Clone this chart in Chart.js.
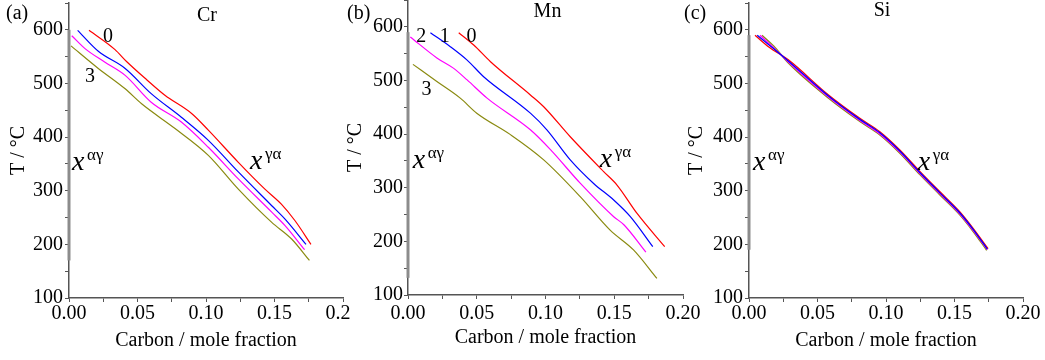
<!DOCTYPE html>
<html>
<head>
<meta charset="utf-8">
<script src="https://cdn.jsdelivr.net/npm/chart.js@4.4.1/dist/chart.umd.min.js"></script>
<style>
  body { margin: 0; background: #fff; }
  #wrap { position: relative; width: 1045px; height: 360px; overflow: hidden; }
  canvas { position: absolute; top: 0; }
</style>
</head>
<body>
<div id="wrap">
  <canvas id="cr" width="350" height="360" style="left:0"></canvas>
  <canvas id="mn" width="355" height="360" style="left:345px"></canvas>
  <canvas id="si" width="365" height="360" style="left:680px"></canvas>
</div>
<script>
// carbon (mole fraction) and temperature (°C) for curves 0..3 of each alloy element

// Cr
const crC0 = [0.0146, 0.0336, 0.042, 0.0567, 0.070, 0.0895, 0.1017, 0.1236, 0.143, 0.155, 0.165, 0.1766];
const crT0 = [599, 563, 541, 507, 478, 444, 413, 353, 303, 275, 244, 200];
const crC1 = [0.0063, 0.0214, 0.041, 0.060, 0.082, 0.1017, 0.1236, 0.148, 0.1577, 0.173];
const crT1 = [599, 560, 528, 481, 437, 394, 335, 272, 247, 200];
const crC2 = [0.002, 0.0117, 0.026, 0.041, 0.060, 0.082, 0.1017, 0.1236, 0.148, 0.1577, 0.172];
const crT2 = [589, 565, 540, 515, 465, 428, 381, 322, 260, 235, 190];
const crC3 = [0.0015, 0.0214, 0.041, 0.053, 0.0774, 0.1017, 0.1236, 0.148, 0.1625, 0.1755];
const crT3 = [570, 528, 490, 462, 416, 366, 303, 241, 210, 170];
const crAgC = [0, 0];
const crAgT = [600, 170];

// Mn
const mnC0 = [0.0369, 0.0478, 0.060, 0.089, 0.0987, 0.118, 0.1423, 0.152, 0.1666, 0.1867];
const mnT0 = [589, 566, 535, 473, 451, 395, 330, 305, 252, 190];
const mnC1 = [0.0163, 0.0308, 0.043, 0.055, 0.089, 0.101, 0.118, 0.135, 0.1496, 0.1617, 0.178];
const mnT1 = [589, 563, 538, 507, 439, 408, 352, 308, 277, 246, 190];
const mnC2 = [0.0017, 0.021, 0.033, 0.043, 0.0575, 0.089, 0.1036, 0.1254, 0.1496, 0.157, 0.173];
const mnT2 = [581, 542, 523, 501, 467, 408, 371, 308, 246, 231, 180];
const mnC3 = [0.0036, 0.021, 0.038, 0.050, 0.0745, 0.0987, 0.1254, 0.147, 0.164, 0.181];
const mnT3 = [530, 498, 467, 439, 399, 352, 283, 221, 184, 131];
const mnAgC = [0, 0];
const mnAgT = [590, 132];

// Si
const siC0 = [0.0044, 0.015, 0.0287, 0.0578, 0.0809, 0.0955, 0.1101, 0.1247, 0.139, 0.1538, 0.1636, 0.1745];
const siT0 = [590, 567, 544, 479, 435, 410, 376, 336, 299, 261, 230, 192];
const siC1 = [0.006, 0.016, 0.0287, 0.0578, 0.0809, 0.0955, 0.1101, 0.1247, 0.139, 0.1538, 0.1636, 0.174];
const siT1 = [590, 569, 542, 477, 433, 408, 374, 334, 297, 259, 228, 191];
const siC2 = [0.008, 0.017, 0.0287, 0.0578, 0.0809, 0.0955, 0.1101, 0.1247, 0.139, 0.1538, 0.1636, 0.174];
const siT2 = [590, 569, 540, 475, 431, 406, 372, 332, 295, 257, 226, 190];
const siC3 = [0.0095, 0.018, 0.0287, 0.0578, 0.0809, 0.0955, 0.1101, 0.1247, 0.139, 0.1538, 0.1636, 0.1735];
const siT3 = [590, 570, 538, 473, 429, 404, 370, 330, 293, 255, 224, 189];
const siAgC = [0, 0];
const siAgT = [590, 190];

const xTicks = [0, 0.05, 0.10, 0.15, 0.20];
const yTicks = [100, 200, 300, 400, 500, 600];

const colors = ["#ff0000", "#0000ff", "#ff00ff", "#8a8a10"];
const serif = '"Liberation Serif", "Times New Roman", serif';

Chart.defaults.font.family = serif;
Chart.defaults.font.size = 20;
Chart.defaults.color = "#000";

const pts = (c, t) => c.map((v, i) => ({ x: v, y: t[i] }));

/* text drawn on top of each panel */
const annotate = {
  id: "annotate",
  afterDatasetsDraw(chart, args, o) {
    const { ctx, chartArea, scales: { x, y } } = chart;
    ctx.save();
    ctx.fillStyle = "#000";
    ctx.font = `20px ${serif}`;
    ctx.textAlign = "left";
    ctx.textBaseline = "top";
    ctx.fillText(o.letter, o.letterX, 4);

    ctx.textAlign = "center";
    ctx.textBaseline = "middle";
    ctx.fillText(o.title, (chartArea.left + chartArea.right) / 2 + o.titleShift, o.titleY);

    o.numbers.forEach(n => {
      ctx.fillText(n.text, x.getPixelForValue(n.c), y.getPixelForValue(n.t));
    });

    ctx.textAlign = "left";
    ctx.textBaseline = "alphabetic";
    o.symbols.forEach(s => {
      const px = x.getPixelForValue(s.c), py = y.getPixelForValue(s.t);
      ctx.font = `italic 28px ${serif}`;
      ctx.fillText("x", px, py);
      ctx.font = `17px ${serif}`;
      ctx.fillText(s.sup, px + 15, py - 10);
    });
    ctx.restore();
  }
};

function panel(id, p) {
  const datasets = [{
    data: pts(p.agC, p.agT),
    borderColor: "#8c8c8c",
    borderWidth: 3,
    clip: false,
    order: 10
  }];
  p.series.forEach((s, i) => {
    datasets.push({
      data: pts(s[0], s[1]),
      borderColor: colors[i],
      borderWidth: p.lineWidth,
      order: p.order ? p.order[i] : 0
    });
  });

  return new Chart(document.getElementById(id), {
    type: "scatter",
    data: { datasets },
    options: {
      responsive: false,
      animation: false,
      devicePixelRatio: 1,
      layout: { padding: { left: 0, top: p.top, right: p.right, bottom: 0 } },
      elements: {
        point: { radius: 0 },
        line: { cubicInterpolationMode: "monotone", fill: false }
      },
      datasets: { scatter: { showLine: true } },
      plugins: {
        legend: { display: false },
        tooltip: { enabled: false },
        annotate: p.text
      },
      scales: {
        x: {
          type: "linear",
          min: 0,
          max: 0.2,
          border: { color: "#555", width: 1.5 },
          grid: { drawOnChartArea: false, drawTicks: true, tickLength: 4, color: "#555" },
          ticks: {
            stepSize: 0.025,
            autoSkip: false,
            maxRotation: 0,
            padding: p.xPad,
            callback: v => (xTicks.some(t => Math.abs(t - v) < 1e-6) ? v.toFixed(2) : "")
          },
          title: {
            display: true,
            text: "Carbon / mole fraction",
            font: { size: 20, lineHeight: 1 },
            padding: { top: 0, bottom: p.xTitlePad }
          },
          afterFit(scale) {
            scale.height = p.xHeight;
            scale.paddingLeft = 0;
            scale.paddingRight = 0;
          }
        },
        y: {
          min: 100,
          max: 650,
          border: { color: "#555", width: 1.5 },
          grid: { drawOnChartArea: false, drawTicks: true, tickLength: 4, color: "#555" },
          ticks: {
            stepSize: 50,
            autoSkip: false,
            padding: p.yPad,
            callback: v => (yTicks.includes(v) ? v : "")
          },
          title: {
            display: true,
            text: "T / °C",
            font: { size: 20, lineHeight: 1 },
            padding: { top: p.yTitlePad, bottom: 0 }
          },
          afterFit(scale) {
            scale.width = p.yWidth;
            scale.paddingTop = 0;
            scale.paddingBottom = 0;
          }
        }
      }
    },
    plugins: [annotate]
  });
}

function drawAll() {
  panel("cr", {
    series: [[crC0, crT0], [crC1, crT1], [crC2, crT2], [crC3, crT3]],
    agC: crAgC, agT: crAgT,
    lineWidth: 1.2,
    top: 3, right: 7, yWidth: 69, xHeight: 62,
    xPad: 0, yPad: 2, xTitlePad: 9, yTitlePad: 9,
    text: {
      letter: "(a)", letterX: 6,
      title: "Cr", titleShift: 1, titleY: 16,
      numbers: [{ text: "0", c: 0.0285, t: 587 }, { text: "3", c: 0.0153, t: 512 }],
      symbols: [{ sup: "αγ", c: 0.0022, t: 338 }, { sup: "γα", c: 0.1321, t: 340 }]
    }
  });

  panel("mn", {
    series: [[mnC0, mnT0], [mnC1, mnT1], [mnC2, mnT2], [mnC3, mnT3]],
    agC: mnAgC, agT: mnAgT,
    lineWidth: 1.2,
    top: 0, right: 17, yWidth: 63, xHeight: 65,
    xPad: 3, yPad: 1, xTitlePad: 12, yTitlePad: 1,
    text: {
      letter: "(b)", letterX: 2,
      title: "Mn", titleShift: 2, titleY: 12,
      numbers: [
        { text: "2", c: 0.0097, t: 581 }, { text: "1", c: 0.0267, t: 581 },
        { text: "0", c: 0.0461, t: 581 }, { text: "3", c: 0.0134, t: 482 }
      ],
      symbols: [{ sup: "αγ", c: 0.0034, t: 336 }, { sup: "γα", c: 0.1394, t: 338 }]
    }
  });

  // Si curves nearly coincide: olive underneath, blue on top
  panel("si", {
    series: [[siC0, siT0], [siC1, siT1], [siC2, siT2], [siC3, siT3]],
    order: [2, 0, 1, 3],
    agC: siAgC, agT: siAgT,
    lineWidth: 1.3,
    top: 3, right: 22, yWidth: 69, xHeight: 62,
    xPad: 0, yPad: 2, xTitlePad: 9, yTitlePad: 7,
    text: {
      letter: "(c)", letterX: 4,
      title: "Si", titleShift: -4, titleY: 11,
      numbers: [],
      symbols: [{ sup: "αγ", c: 0.0029, t: 339 }, { sup: "γα", c: 0.1232, t: 339 }]
    }
  });
}

Promise.all([
  document.fonts.load('20px "Liberation Serif"'),
  document.fonts.load('italic 28px "Liberation Serif"')
]).then(drawAll, drawAll);
</script>
</body>
</html>
